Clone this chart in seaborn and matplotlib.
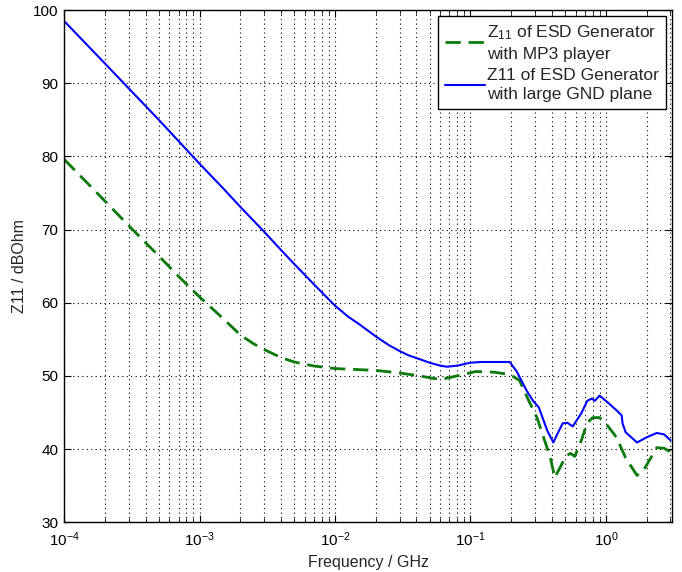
import numpy as np
import pandas as pd
import matplotlib
matplotlib.use("Agg")
import matplotlib.pyplot as plt
import seaborn as sns
from matplotlib.ticker import LogLocator, NullFormatter

# Input impedance Z11 of the ESD generator, two setups (frequency in GHz, level in dBOhm)
freq_mp3 = [1e-4, 2e-4, 3.2e-4, 5e-4, 7e-4, 1e-3, 1.5e-3, 2e-3, 2.5e-3, 3e-3,
            4e-3, 5e-3, 7e-3, 1e-2, 2e-2, 3e-2, 4.2e-2, 6e-2, 8e-2, 0.11,
            0.15, 0.195, 0.23, 0.27, 0.31, 0.34, 0.39, 0.42, 0.46, 0.51,
            0.55, 0.59, 0.66, 0.73, 0.80, 0.90, 1.03, 1.2, 1.4, 1.7,
            1.9, 2.15, 2.38, 2.7, 3.0]
z11_mp3 = [79.6, 73.9, 70.0, 66.4, 63.6, 60.8, 57.8, 55.6, 54.4, 53.6,
           52.5, 51.9, 51.35, 51.0, 50.75, 50.4, 50.0, 49.5, 50.0, 50.6,
           50.5, 50.2, 49.4, 46.6, 44.3, 42.1, 38.8, 36.1, 37.5, 39.1,
           39.4, 39.0, 41.2, 43.6, 44.3, 44.3, 43.2, 41.6, 38.8, 36.4,
           37.1, 38.8, 40.2, 40.1, 39.6]

freq_gnd = [1e-4, 2e-4, 5e-4, 1e-3, 1.5e-3, 2e-3, 3e-3, 4e-3, 5e-3, 7e-3,
            1e-2, 1.25e-2, 1.5e-2, 2e-2, 2.5e-2, 3e-2, 3.5e-2, 4.2e-2, 5e-2, 6e-2,
            6.7e-2, 8e-2, 0.1, 0.12, 0.195, 0.22, 0.26, 0.29, 0.32, 0.37,
            0.41, 0.44, 0.48, 0.52, 0.57, 0.66, 0.73, 0.79, 0.83, 0.90,
            1.0, 1.2, 1.31, 1.33, 1.4, 1.7, 2.0, 2.38, 2.7, 3.0]
z11_gnd = [98.5, 92.7, 85.0, 79.0, 75.6, 73.1, 69.7, 67.2, 65.3, 62.5,
           59.6, 58.1, 57.1, 55.4, 54.2, 53.4, 52.8, 52.3, 51.8, 51.4,
           51.25, 51.4, 51.8, 51.9, 51.9, 50.6, 48.0, 46.6, 45.7, 42.5,
           40.9, 42.1, 43.5, 43.6, 43.1, 44.9, 46.6, 46.9, 46.6, 47.3,
           46.6, 45.3, 44.6, 43.5, 42.3, 40.9, 41.6, 42.2, 42.0, 41.2]

label_mp3 = "$Z_{11}$ of ESD Generator\nwith MP3 player"
label_gnd = "Z11 of ESD Generator\nwith large GND plane"

y_ticks = [30, 40, 50, 60, 70, 80, 90, 100]

sns.set_style("ticks")
plt.rcParams["font.family"] = ["Liberation Sans", "DejaVu Sans"]
plt.rcParams["mathtext.fontset"] = "custom"
plt.rcParams["mathtext.rm"] = "Liberation Sans"
plt.rcParams["mathtext.it"] = "Liberation Sans"

df = pd.concat([
    pd.DataFrame({"freq": freq_mp3, "z11": z11_mp3, "setup": label_mp3}),
    pd.DataFrame({"freq": freq_gnd, "z11": z11_gnd, "setup": label_gnd}),
], ignore_index=True)

fig = plt.figure(figsize=(6.82, 5.72), dpi=100)
ax = fig.add_axes([0.094, 0.087, 0.891, 0.8955])

sns.lineplot(data=df, x="freq", y="z11", hue="setup", style="setup",
             palette={label_mp3: "#0a7a0a", label_gnd: "#0000ff"},
             dashes={label_mp3: (5.5, 2.8), label_gnd: ""},
             sort=False, estimator=None, ax=ax, legend=True)
ax.lines[0].set_linewidth(2.0)
ax.lines[1].set_linewidth(1.5)

ax.set_xscale("log")
ax.set_xlim(1e-4, 3.07)
ax.set_ylim(30, 100)
ax.set_yticks(y_ticks)
ax.xaxis.set_major_locator(LogLocator(base=10, numticks=10))
ax.xaxis.set_minor_locator(LogLocator(base=10, subs=np.arange(2, 10), numticks=100))
ax.xaxis.set_minor_formatter(NullFormatter())

ax.grid(True, which="major", axis="both", linestyle=(0, (1, 3)), color="black", linewidth=0.8)
ax.grid(True, which="minor", axis="x", linestyle=(0, (1, 3)), color="black", linewidth=0.8)

ax.tick_params(which="both", direction="in", top=True, right=True, colors="black",
               labelsize=11)
ax.tick_params(axis="x", which="major", pad=6)
ax.tick_params(axis="y", which="major", pad=4)
ax.tick_params(which="major", length=5)
ax.tick_params(which="minor", length=3)
for s in ax.spines.values():
    s.set_color("black")
    s.set_linewidth(1.0)

ax.set_xlabel("Frequency / GHz", fontsize=11.5, labelpad=4)
ax.set_ylabel("Z11 / dBOhm", fontsize=11.5)

handles, labels = ax.get_legend_handles_labels()
handles[0].set_linewidth(2.0)
handles[1].set_linewidth(1.5)
leg = ax.legend(handles, labels, loc="upper right", fontsize=12.5, frameon=True,
                fancybox=False, framealpha=1, edgecolor="black",
                borderaxespad=0.35, handlelength=2.3, handletextpad=0.1,
                labelspacing=0.35, borderpad=0.4)
leg.get_frame().set_linewidth(1.0)
for t in leg.get_texts():
    t.set_linespacing(1.4)

fig.savefig("out.png", dpi=100)
